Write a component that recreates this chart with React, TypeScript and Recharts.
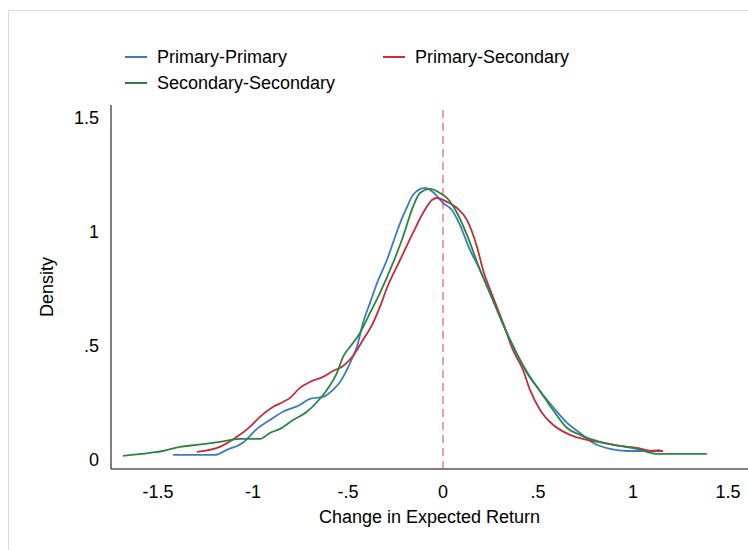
import { LineChart, Line, XAxis, YAxis, ReferenceLine } from "recharts";

const FONT = "'Liberation Sans', Arial, Helvetica, sans-serif";

// kernel density estimates
const ppX = [-1.42, -1.3, -1.2, -1.137, -1.053, -0.979, -0.911, -0.842, -0.753, -0.7, -0.632, -0.579, -0.542, -0.489, -0.453, -0.421, -0.384, -0.347, -0.295, -0.263, -0.226, -0.189, -0.158, -0.095, -0.053, 0.0, 0.047, 0.089, 0.142, 0.195, 0.247, 0.3, 0.353, 0.405, 0.495, 0.579, 0.653, 0.721, 0.789, 0.879, 0.968, 1.074, 1.142];
const ppY = [0.022, 0.022, 0.022, 0.044, 0.075, 0.136, 0.175, 0.211, 0.241, 0.268, 0.276, 0.307, 0.342, 0.425, 0.496, 0.601, 0.689, 0.776, 0.877, 0.952, 1.039, 1.11, 1.162, 1.193, 1.175, 1.127, 1.096, 1.031, 0.921, 0.833, 0.732, 0.627, 0.526, 0.439, 0.32, 0.232, 0.162, 0.118, 0.075, 0.048, 0.039, 0.039, 0.044];

const psX = [-1.295, -1.174, -1.084, -1.016, -0.963, -0.895, -0.842, -0.805, -0.753, -0.7, -0.632, -0.579, -0.526, -0.474, -0.421, -0.368, -0.332, -0.295, -0.226, -0.158, -0.105, -0.058, -0.032, 0.021, 0.074, 0.126, 0.179, 0.211, 0.263, 0.316, 0.368, 0.421, 0.458, 0.511, 0.579, 0.668, 0.758, 0.842, 0.932, 1.021, 1.105, 1.158];
const psY = [0.035, 0.057, 0.101, 0.145, 0.189, 0.232, 0.254, 0.272, 0.316, 0.342, 0.364, 0.39, 0.412, 0.456, 0.526, 0.601, 0.671, 0.754, 0.877, 0.996, 1.083, 1.14, 1.149, 1.132, 1.105, 1.053, 0.934, 0.833, 0.715, 0.601, 0.482, 0.395, 0.307, 0.219, 0.154, 0.11, 0.088, 0.075, 0.061, 0.053, 0.039, 0.039];

const ssX = [-1.684, -1.542, -1.474, -1.384, -1.295, -1.174, -1.068, -0.963, -0.911, -0.858, -0.789, -0.716, -0.663, -0.611, -0.558, -0.526, -0.489, -0.437, -0.384, -0.332, -0.263, -0.211, -0.158, -0.121, -0.068, -0.016, 0.021, 0.074, 0.126, 0.195, 0.247, 0.3, 0.353, 0.405, 0.458, 0.495, 0.579, 0.653, 0.721, 0.826, 0.932, 1.021, 1.126, 1.247, 1.389];
const ssY = [0.018, 0.031, 0.039, 0.057, 0.066, 0.079, 0.092, 0.092, 0.118, 0.136, 0.175, 0.211, 0.254, 0.307, 0.382, 0.452, 0.496, 0.557, 0.645, 0.732, 0.864, 0.978, 1.11, 1.171, 1.189, 1.171, 1.149, 1.083, 0.987, 0.833, 0.732, 0.627, 0.526, 0.439, 0.36, 0.32, 0.219, 0.14, 0.11, 0.079, 0.061, 0.048, 0.026, 0.026, 0.026];

const xTicks = [-1.5, -1, -0.5, 0, 0.5, 1, 1.5];
const xTickLabels = ["-1.5", "-1", "-.5", "0", ".5", "1", "1.5"];
const yTicks = [0, 0.5, 1, 1.5];
const yTickLabels = ["0", ".5", "1", "1.5"];

const toPoints = (xs: number[], ys: number[]) => xs.map((x, i) => ({ x, y: ys[i] }));

const series = [
  { name: "Primary-Primary", color: "#3a7cc3", data: toPoints(ppX, ppY) },
  { name: "Primary-Secondary", color: "#c62b3e", data: toPoints(psX, psY) },
  { name: "Secondary-Secondary", color: "#2b8540", data: toPoints(ssX, ssY) },
];

const tickStyle = { fontSize: 18, fill: "#000", fontFamily: FONT };

export default function App() {
  return (
    <div
      style={{
        position: "absolute",
        left: 0,
        top: 0,
        width: 748,
        height: 550,
        overflow: "hidden",
        background: "#fff",
        fontFamily: FONT,
      }}
    >
      <div
        style={{
          position: "absolute",
          left: 8,
          top: 10,
          width: 800,
          height: 600,
          border: "1px solid #dcdcdc",
        }}
      />
      <div
        style={{
          position: "absolute",
          left: 125,
          top: 44,
          display: "grid",
          gridTemplateColumns: "258px 258px",
          fontSize: 18,
          color: "#000",
        }}
      >
        {series.map((s) => (
          <div key={s.name} style={{ display: "flex", alignItems: "center", height: 26 }}>
            <svg width={22} height={4} style={{ marginRight: 10 }}>
              <line x1={0} y1={2} x2={22} y2={2} stroke={s.color} strokeWidth={2} />
            </svg>
            <span>{s.name}</span>
          </div>
        ))}
      </div>
      <div style={{ position: "absolute", left: 0, top: 0 }}>
        <LineChart width={748} height={550} margin={{ top: 105, right: 0, left: 0, bottom: 0 }}>
          <XAxis
            type="number"
            dataKey="x"
            domain={[-1.747, 1.605]}
            ticks={xTicks}
            allowDataOverflow
            height={81}
            tickLine={false}
            tickSize={0}
            tickMargin={16}
            axisLine={{ stroke: "#555", strokeWidth: 1.5 }}
            tick={tickStyle}
            tickFormatter={(v: number) => xTickLabels[xTicks.indexOf(v)] ?? String(v)}
            label={{
              content: ({ viewBox }: any) => (
                <text
                  x={viewBox.x + viewBox.width / 2}
                  y={viewBox.y + 54}
                  textAnchor="middle"
                  fontSize={18}
                  fontFamily={FONT}
                  fill="#000"
                >
                  Change in Expected Return
                </text>
              ),
            }}
          />
          <YAxis
            type="number"
            domain={[-0.04, 1.557]}
            ticks={yTicks}
            allowDataOverflow
            width={111}
            tickLine={false}
            tickSize={0}
            tickMargin={12}
            axisLine={{ stroke: "#555", strokeWidth: 1.5 }}
            tick={tickStyle}
            tickFormatter={(v: number) => yTickLabels[yTicks.indexOf(v)] ?? String(v)}
            label={{
              content: ({ viewBox }: any) => {
                const cx = viewBox.x + 47;
                const cy = viewBox.y + viewBox.height / 2;
                return (
                  <text
                    x={cx}
                    y={cy}
                    textAnchor="middle"
                    dominantBaseline="central"
                    transform={`rotate(-90, ${cx}, ${cy})`}
                    fontSize={18}
                    fontFamily={FONT}
                    fill="#000"
                  >
                    Density
                  </text>
                );
              },
            }}
          />
          <ReferenceLine x={0} stroke="#e87f8a" strokeWidth={1.5} strokeDasharray="8 5" />
          {series.map((s) => (
            <Line
              key={s.name}
              data={s.data}
              dataKey="y"
              name={s.name}
              type="monotone"
              stroke={s.color}
              strokeWidth={1.8}
              dot={false}
              isAnimationActive={false}
            />
          ))}
        </LineChart>
      </div>
    </div>
  );
}
